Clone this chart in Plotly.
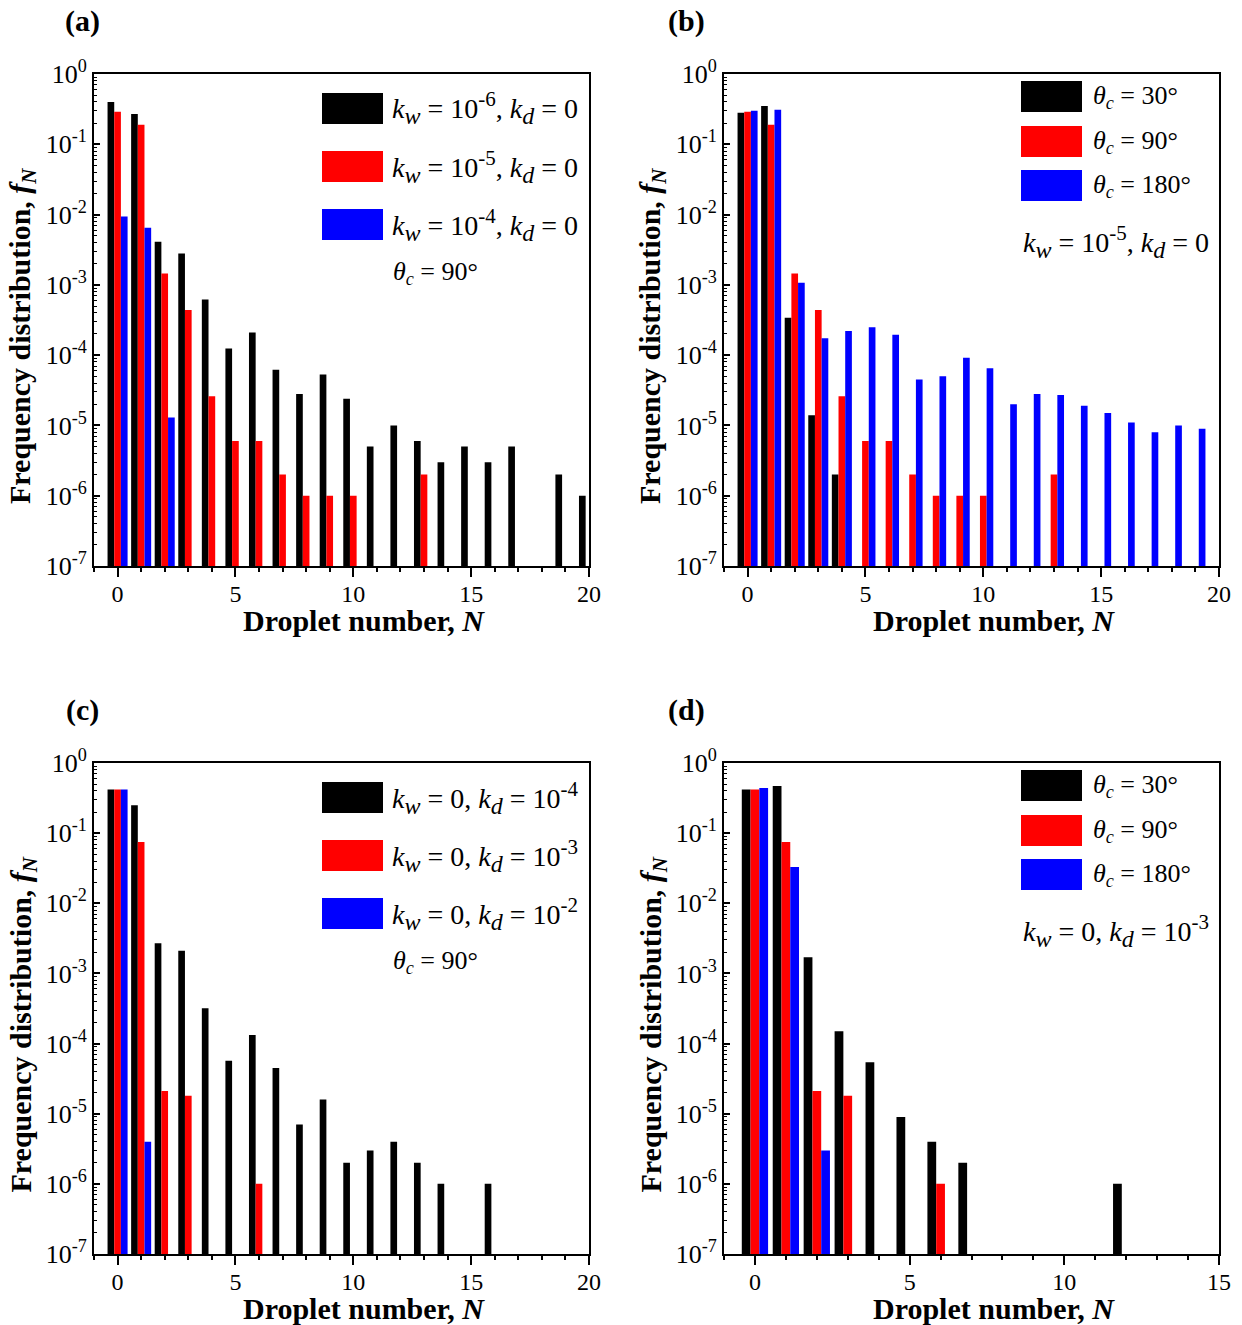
import plotly.graph_objects as go
from plotly.subplots import make_subplots

# ---- data: frequency distribution f_N versus droplet number N ----
N = list(range(0, 21))

# (a) theta_c = 90 deg, varying k_w
a_kw6 = [0.40, 0.27, 4.1e-3, 2.8e-3, 6.2e-4, 1.24e-4, 2.1e-4, 6.2e-5, 2.8e-5, 5.3e-5,
         2.4e-5, 5e-6, 1e-5, 6e-6, 3e-6, 5e-6, 3e-6, 5e-6, None, 2e-6, 1e-6]
a_kw5 = [0.29, 0.19, 1.45e-3, 4.4e-4, 2.6e-5, 6e-6, 6e-6, 2e-6, 1e-6, 1e-6, 1e-6,
         None, None, 2e-6]
a_kw4 = [9.4e-3, 6.5e-3, 1.3e-5]

# (b) k_w = 1e-5, varying contact angle
b_th30 = [0.28, 0.35, 3.4e-4, 1.4e-5, 2e-6]
b_th90 = [0.29, 0.19, 1.45e-3, 4.4e-4, 2.6e-5, 6e-6, 6e-6, 2e-6, 1e-6, 1e-6, 1e-6,
          None, None, 2e-6]
b_th180 = [0.30, 0.31, 1.07e-3, 1.74e-4, 2.2e-4, 2.5e-4, 1.95e-4, 4.5e-5, 5e-5, 9.2e-5,
           6.5e-5, 2e-5, 2.8e-5, 2.7e-5, 1.9e-5, 1.5e-5, 1.1e-5, 8e-6, 1e-5, 9e-6]

# (c) theta_c = 90 deg, varying k_d
c_kd4 = [0.42, 0.25, 2.7e-3, 2.1e-3, 3.2e-4, 5.7e-5, 1.32e-4, 4.5e-5, 7e-6, 1.6e-5,
         2e-6, 3e-6, 4e-6, 2e-6, 1e-6, None, 1e-6]
c_kd3 = [0.42, 0.075, 2.1e-5, 1.8e-5, None, None, 1e-6]
c_kd2 = [0.42, 4e-6]

# (d) k_d = 1e-3, varying contact angle
d_th30 = [0.42, 0.47, 1.7e-3, 1.5e-4, 5.4e-5, 9e-6, 4e-6, 2e-6, None, None, None, None, 1e-6]
d_th90 = [0.42, 0.075, 2.1e-5, 1.8e-5, None, None, 1e-6]
d_th180 = [0.44, 0.033, 3e-6]

y_tickvals = [10.0 ** e for e in range(-7, 1)]
y_ticktext = ["10<sup>%d</sup>" % e for e in range(-7, 1)]

# legend labels (subscripts drawn a bit larger than the default sub size)
SUB = "<sub><span style='font-size:24px'><i>%s</i></span></sub>"
SUP = "<sup><span style='font-size:21px'>%s</span></sup>"
kw_lbl = lambda e: ("<i>k</i>" + SUB % "w" + " = 10" + SUP % ("-%d" % e) +
                    ", <i>k</i>" + SUB % "d" + " = 0")
kd_lbl = lambda e: ("<i>k</i>" + SUB % "w" + " = 0, <i>k</i>" + SUB % "d" +
                    " = 10" + SUP % ("-%d" % e))
th_lbl = lambda d: "<i>θ</i><sub><i>c</i></sub> = %d°" % d

COLORS = ["#000000", "#FF0000", "#0000FF"]
FONT = "Liberation Serif, Times New Roman, serif"

panels = [
    dict(series=[a_kw6, a_kw5, a_kw4], labels=[kw_lbl(6), kw_lbl(5), kw_lbl(4)],
         note=th_lbl(90), tag="(a)", xmax=20),
    dict(series=[b_th30, b_th90, b_th180], labels=[th_lbl(30), th_lbl(90), th_lbl(180)],
         note=kw_lbl(5), tag="(b)", xmax=20),
    dict(series=[c_kd4, c_kd3, c_kd2], labels=[kd_lbl(4), kd_lbl(3), kd_lbl(2)],
         note=th_lbl(90), tag="(c)", xmax=20),
    dict(series=[d_th30, d_th90, d_th180], labels=[th_lbl(30), th_lbl(90), th_lbl(180)],
         note=kd_lbl(3), tag="(d)", xmax=15),
]

W, H = 1242, 1325
# plot-area boxes in pixels: (left, right, top, bottom)
boxes = [(94, 589, 74, 566), (724, 1219, 74, 566),
         (94, 589, 763, 1254), (724, 1219, 763, 1254)]

fig = make_subplots(rows=2, cols=2)

shapes, annotations = [], []


def px_x(v):
    return v / W


def px_y(v):
    return 1 - v / H


def text(t, x, y, size, xanchor="center", angle=0):
    annotations.append(dict(text=t, x=px_x(x), y=px_y(y), xref="paper", yref="paper",
                            xanchor=xanchor, yanchor="middle", textangle=angle,
                            showarrow=False,
                            font=dict(family=FONT, size=size, color="black")))


for i, p in enumerate(panels):
    r, c = i // 2 + 1, i % 2 + 1
    for s, (vals, name) in enumerate(zip(p["series"], p["labels"])):
        fig.add_trace(go.Bar(x=N[:len(vals)], y=vals, name=name,
                             marker=dict(color=COLORS[s], line=dict(width=0)),
                             showlegend=False), row=r, col=c)
    L, R, T, B = boxes[i]
    xa = "xaxis" if i == 0 else "xaxis%d" % (i + 1)
    ya = "yaxis" if i == 0 else "yaxis%d" % (i + 1)
    fig.layout[xa].update(
        domain=[px_x(L), px_x(R)], range=[-1, p["xmax"]], automargin=False,
        tickmode="array", tickvals=list(range(0, p["xmax"] + 1, 5)),
        ticks="outside", ticklen=9, tickwidth=1.5, tickcolor="black",
        ticklabelstandoff=-4,
        minor=dict(dtick=1, tick0=0, ticks="outside", ticklen=4, tickwidth=1.5,
                   tickcolor="black", showgrid=False),
        showline=True, linewidth=2, linecolor="black", mirror=True,
        showgrid=False, zeroline=False,
        tickfont=dict(family=FONT, size=24, color="black"))
    fig.layout[ya].update(
        domain=[px_y(B), px_y(T)], type="log", range=[-7, 0], automargin=False,
        tickmode="array", tickvals=y_tickvals, ticktext=y_ticktext,
        ticks="inside", ticklen=6, tickwidth=1.5, tickcolor="black",
        minor=dict(dtick="D1", ticks="inside", ticklen=3, tickwidth=1,
                   tickcolor="black", showgrid=False),
        showline=True, linewidth=2, linecolor="black", mirror=True,
        showgrid=False, zeroline=False,
        tickfont=dict(family=FONT, size=26, color="black"))

    # axis titles and panel tag
    text("<b>Droplet number, <i>N</i></b>", L + 270, B + 54, 30)
    text("<b>Frequency distribution, <i>f</i><sub><i>N</i></sub></b>",
         L - 72, (T + B) / 2 + 16, 30, angle=-90)
    text("<b>%s</b>" % p["tag"], L - 12 if c == 1 else L - 38, T - 53, 30)

    # legend swatches and labels
    if c == 1:
        sx0, sx1, tx = L + 228, L + 289, L + 296
        sy = [T + 19, T + 77, T + 135]
        note_x, note_y = L + 297, T + 199
    else:
        sx0, sx1, tx = L + 297, L + 358, L + 367
        sy = [T + 7, T + 52, T + 96]
        note_x, note_y = L + 297, T + 168
    for s in range(3):
        shapes.append(dict(type="rect", xref="paper", yref="paper",
                           x0=px_x(sx0), x1=px_x(sx1), y0=px_y(sy[s] + 31), y1=px_y(sy[s]),
                           fillcolor=COLORS[s], line=dict(width=0)))
        text(p["labels"][s], tx, sy[s] + 15.5, 28 if c == 1 else 26, xanchor="left")
    text(p["note"], note_x, note_y, 28 if c == 2 else 26, xanchor="left")

fig.update_layout(
    width=W, height=H, margin=dict(l=0, r=0, t=0, b=0, autoexpand=False),
    barmode="group", bargap=0.15, bargroupgap=0,
    plot_bgcolor="white", paper_bgcolor="white",
    shapes=shapes, annotations=annotations,
    font=dict(family=FONT, color="black"),
)

fig.write_html("out.html")
